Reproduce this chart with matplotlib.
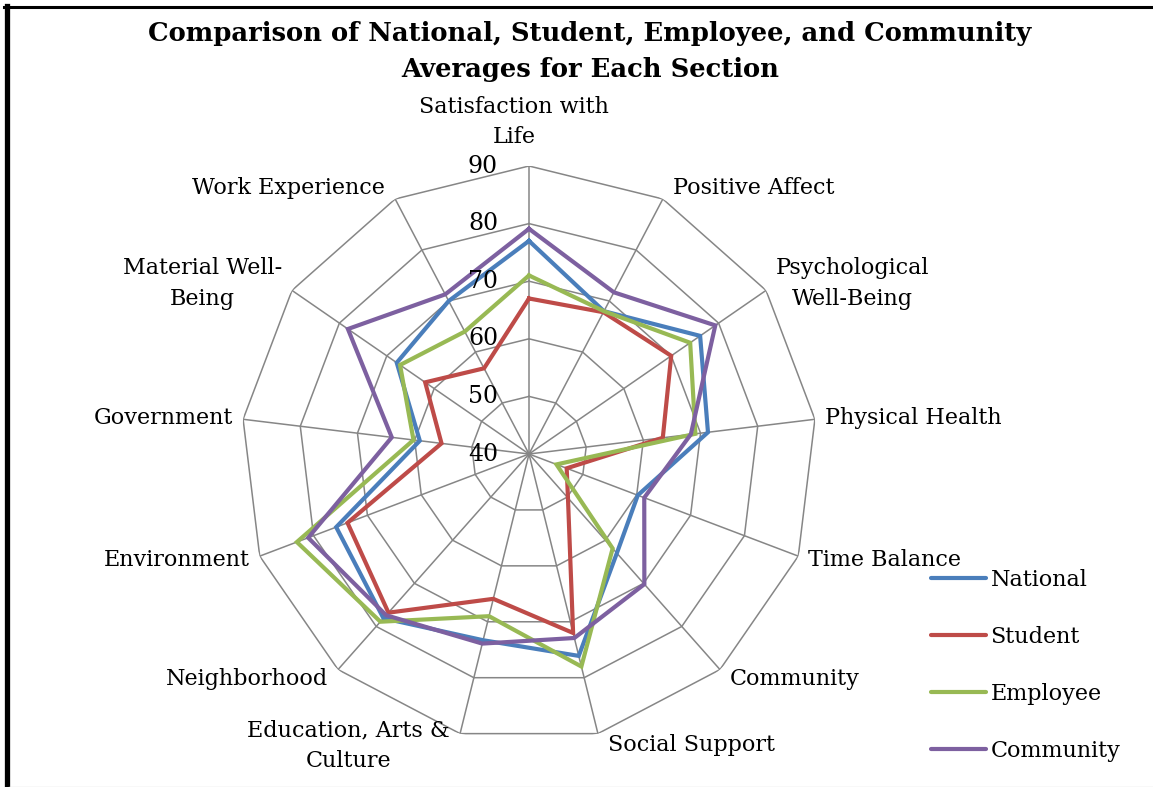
import numpy as np
import matplotlib
matplotlib.use("Agg")
import matplotlib.pyplot as plt
from matplotlib.lines import Line2D

categories = ["Satisfaction with\nLife", "Positive Affect", "Psychological\nWell-Being",
              "Physical Health", "Time Balance", "Community", "Social Support",
              "Education, Arts &\nCulture", "Neighborhood", "Environment", "Government",
              "Material Well-\nBeing", "Work Experience"]
national = [77.0, 68.0, 76.1, 71.3, 60.2, 63.0, 76.1, 73.3, 78.1, 75.8, 59.1, 67.9, 70.0]
student = [67.0, 67.8, 70.0, 63.4, 47.0, 50.2, 72.0, 65.9, 76.8, 73.7, 55.3, 61.9, 56.8]
employee = [71.0, 68.0, 74.0, 69.1, 45.1, 61.9, 78.0, 69.0, 78.9, 83.1, 60.2, 67.2, 64.0]
community = [79.1, 71.7, 79.3, 68.3, 61.4, 70.2, 72.9, 73.9, 77.4, 81.0, 64.0, 78.2, 71.3]
series_names = ["National", "Student", "Employee", "Community"]
series_colors = ["#4A7EBB", "#BE4B48", "#98B954", "#7D60A0"]
rticks = [40, 50, 60, 70, 80, 90]
title = "Comparison of National, Student, Employee, and Community\nAverages for Each Section"

FONT = "DejaVu Serif"
plt.rcParams['font.family'] = FONT

W, H = 1153, 787
fig = plt.figure(figsize=(W / 100, H / 100), dpi=100)
cx, cy, R = 529, 454, 288
ax = fig.add_axes([(cx - R) / W, (H - cy - R) / H, 2 * R / W, 2 * R / H], projection='polar')
ax.set_theta_zero_location('N')
ax.set_theta_direction(-1)
ax.set_ylim(rticks[0], rticks[-1])
ax.grid(False)
ax.spines['polar'].set_visible(False)
ax.set_xticks([])
ax.set_yticks([])
ax.patch.set_alpha(0)

n = len(categories)
theta = np.linspace(0, 2 * np.pi, n, endpoint=False)
tc = np.append(theta, theta[0])

grid_color = "#868686"
for lv in rticks[1:]:
    ax.plot(tc, [lv] * (n + 1), color=grid_color, lw=1.1, zorder=1)
for t in theta:
    ax.plot([t, t], [rticks[0], rticks[-1]], color=grid_color, lw=1.1, zorder=1)

for vals, name, col in zip([national, student, employee, community], series_names, series_colors):
    v = list(vals) + [vals[0]]
    ax.plot(tc, v, color=col, lw=3.0, label=name, zorder=3, solid_joinstyle='miter')

fs = 16
for lv in rticks:
    ax.annotate(str(lv), xy=(0, lv), xytext=(-31, 0), textcoords='offset pixels',
                ha='right', va='center', fontsize=fs + 1, zorder=5)

for t, lab in zip(theta, categories):
    s, c = np.sin(t), np.cos(t)
    if abs(s) < 1e-6:
        ax.annotate(lab, xy=(t, rticks[-1]), xytext=(-15, 18), textcoords='offset pixels',
                    ha='center', va='bottom', multialignment='center', fontsize=fs,
                    linespacing=1.5)
    else:
        ha = 'left' if s > 0 else 'right'
        ax.annotate(lab, xy=(t, rticks[-1]), xytext=(10 * np.sign(s), 12 * c),
                    textcoords='offset pixels', ha=ha, va='center',
                    multialignment='center', fontsize=fs, linespacing=1.5)

fig.text(590 / W, 1 - 52 / H, title, ha='center', va='center', fontsize=18.6,
         fontweight='bold', linespacing=1.55)

leg = fig.legend(loc='upper left', bbox_to_anchor=(920 / W, 1 - 558 / H), frameon=False,
                 fontsize=fs, handlelength=2.45, handletextpad=0.22, labelspacing=1.57,
                 borderpad=0)
for h in leg.get_lines():
    h.set_linewidth(3.0)
    h.set_solid_capstyle('round')

fig.add_artist(Line2D([6.5 / W, 6.5 / W], [0, 1 - 6 / H], color='black', lw=3.8,
                      transform=fig.transFigure))
fig.add_artist(Line2D([4 / W, 1], [1 - 7 / H, 1 - 7 / H], color='black', lw=2.2,
                      transform=fig.transFigure))
fig.add_artist(Line2D([9 / W, 1], [0.5 / H, 0.5 / H], color='#DDDDDD', lw=1,
                      transform=fig.transFigure))

fig.savefig("out.png", dpi=100, facecolor='white')
